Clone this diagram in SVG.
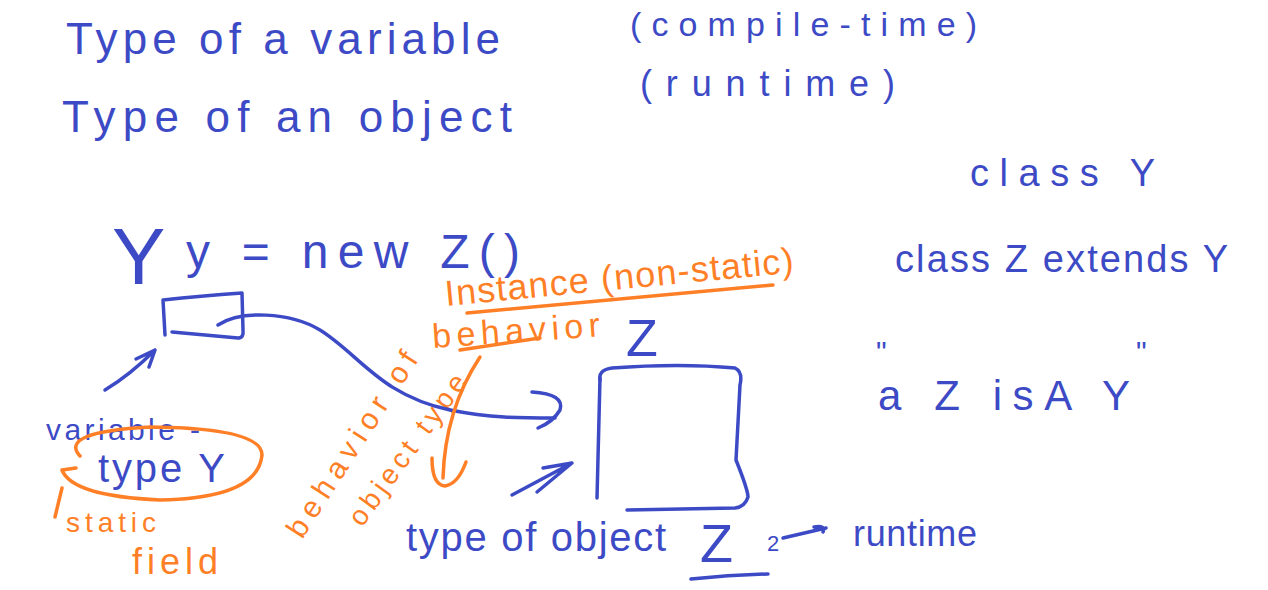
<svg xmlns="http://www.w3.org/2000/svg" width="1268" height="590" viewBox="0 0 1268 590">
<style>
.b{fill:#3d4ac6;font-family:"Liberation Sans",Arial,sans-serif}
.o{fill:#ff7f27;font-family:"Liberation Sans",Arial,sans-serif}
.sb{fill:none;stroke:#3d4ac6;stroke-width:3.5;stroke-linecap:round;stroke-linejoin:round}
.so{fill:none;stroke:#ff7f27;stroke-width:3.5;stroke-linecap:round;stroke-linejoin:round}
</style>
<rect width="1268" height="590" fill="#ffffff"/>
<g id="header">
<text class="b" x="66" y="54" font-size="44" textLength="434" lengthAdjust="spacing">Type of a variable</text>
<text class="b" x="630" y="36" font-size="34" textLength="347" lengthAdjust="spacing">(compile-time)</text>
<text class="b" x="62" y="132" font-size="44" textLength="450" lengthAdjust="spacing">Type of an object</text>
<text class="b" x="640" y="96" font-size="36" textLength="255" lengthAdjust="spacing">(runtime)</text>
</g>
<g id="classes">
<text class="b" x="970" y="186" font-size="38" textLength="185" lengthAdjust="spacing">class Y</text>
<text class="b" x="895" y="272" font-size="38" textLength="333" lengthAdjust="spacing">class Z extends Y</text>
<text class="b" x="876" y="362" font-size="30">"</text>
<text class="b" x="878" y="410" font-size="42" textLength="252" lengthAdjust="spacing">a Z isA Y</text>
<text class="b" x="1136" y="362" font-size="30">"</text>
</g>
<g id="statement">
<text class="b" x="112" y="284" font-size="80">Y</text>
<text class="b" x="186" y="268" font-size="48" textLength="334" lengthAdjust="spacing">y = new Z()</text>
</g>
<g id="variable-box">
<path class="sb" d="M165,335 L163,300 Q200,296 242,293 L243,330 Q244,338 238,338 L172,332"/>
</g>
<g id="variable-label">
<text class="b" x="46" y="440" font-size="30" textLength="154" lengthAdjust="spacing">variable -</text>
<text class="b" x="98" y="482" font-size="40" textLength="127" lengthAdjust="spacing">type Y</text>
<path class="so" d="M80,456 Q58,432 150,427 Q262,428 262,455 Q258,498 160,500 Q72,496 62,470 L76,468"/>
<path class="so" d="M55,517 L62,488"/>
<text class="o" x="66" y="532" font-size="28" textLength="90" lengthAdjust="spacing">static</text>
<text class="o" x="132" y="574" font-size="36" textLength="86" lengthAdjust="spacing">field</text>
</g>
<g id="instance-note">
<text class="o" x="446" y="306" font-size="36" textLength="350" lengthAdjust="spacing" transform="rotate(-5.5 446 306)">Instance (non-static)</text>
<path class="so" d="M467,313 L773,285"/>
<text class="o" x="433" y="348" font-size="34" textLength="168" lengthAdjust="spacing" transform="rotate(-4 433 348)">behavior</text>
<path class="so" d="M460,350 L540,338"/>
<text class="o" x="302" y="540" font-size="30" textLength="215" lengthAdjust="spacing" transform="rotate(-57 302 540)">behavior of</text>
<text class="o" x="362" y="528" font-size="28" textLength="180" lengthAdjust="spacing" transform="rotate(-54 362 528)">object type</text>
</g>
<g id="object-box">
<text class="b" x="626" y="356" font-size="52">Z</text>
<path class="sb" d="M600,380 Q598,370 612,368 Q680,363 735,368 Q743,372 740,385 L736,460 Q748,490 748,497 Q745,507 735,508 L627,510"/>
<path class="sb" d="M600,378 L597,498"/>
</g>
<g id="object-label">
<text class="b" x="406" y="551" font-size="40" textLength="260" lengthAdjust="spacing">type of object</text>
<text class="b" x="700" y="562" font-size="54">Z</text>
<path class="sb" d="M691,579 Q730,575 768,574"/>
<text class="b" x="767" y="551" font-size="22">2</text>
<text class="b" x="853" y="546" font-size="36" textLength="124" lengthAdjust="spacing">runtime</text>
</g>
<g id="connectors">
<path class="sb" d="M218,325 C240,310 290,312 320,330 C360,355 380,395 450,410 C490,418 520,418 555,418"/>
<path class="sb" d="M532,392 Q565,394 560,410 Q553,422 538,428"/>
<path class="sb" d="M105,390 Q130,375 155,350 M136,359 L155,350 L149,367"/>
<path class="sb" d="M512,495 L572,463 L543,468 M572,463 L537,492"/>
<path class="sb" d="M783,538 L826,528 M814,527 Q826,525 823,532"/>
<path class="so" d="M480,357 Q445,410 443,478"/>
<path class="so" d="M432,458 Q432,485 445,486 Q458,484 466,462"/>
</g>
</svg>
